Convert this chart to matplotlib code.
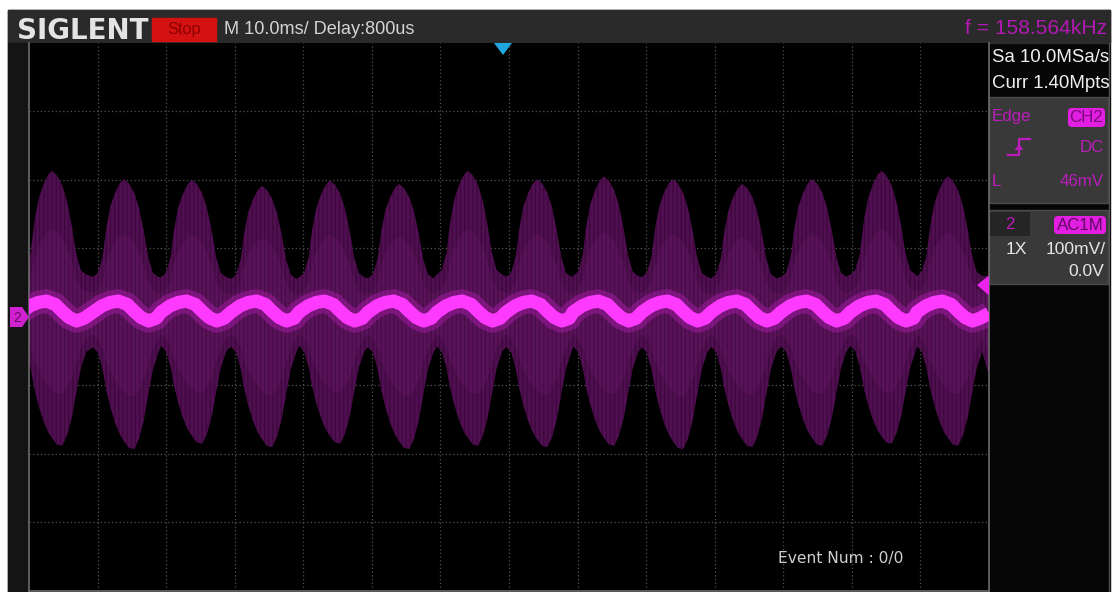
import numpy as np
import matplotlib
matplotlib.use("Agg")
import matplotlib.pyplot as plt
from matplotlib.patches import Rectangle, Polygon, FancyBboxPatch
from matplotlib import font_manager

# scope readouts
brand = "SIGLENT"
run_state = "Stop"
timebase = "M 10.0ms/ Delay:800us"
freq_text = "f = 158.564kHz"
sample_rate = "Sa 10.0MSa/s"
mem_depth = "Curr 1.40Mpts"
trig_src = "CH2"
trig_coupling = "DC"
trig_level = "46mV"
ch_coupling = "AC1M"
ch_probe = "1X"
ch_scale = "100mV/"
ch_offset = "0.0V"
event_text = "Event Num : 0/0"

# burst positions (div) and envelope peaks (div)
burst_x = [0.335, 1.385, 2.377, 3.398, 4.39, 5.396, 6.40, 7.41, 8.385, 9.39, 10.40, 11.42, 12.43, 13.40]
burst_top = [2.13, 2.01, 2.00, 1.91, 1.99, 1.94, 2.13, 2.01, 2.05, 2.01, 1.94, 2.01, 2.13, 2.05]
burst_bottom = [-1.88, -1.93, -1.85, -1.90, -1.85, -1.93, -1.88, -1.90, -1.88, -1.93, -1.90, -1.88, -1.85, -1.88]

# envelope shape around one burst (offset in div, fraction of peak)
profile_dx = [-0.45, -0.38, -0.31, -0.26, -0.20, -0.13, -0.06, 0.0, 0.07, 0.15, 0.22, 0.29, 0.35, 0.42, 0.50]
upper_frac = [0.29, 0.32, 0.44, 0.64, 0.80, 0.90, 0.97, 1.00, 0.97, 0.90, 0.79, 0.62, 0.44, 0.32, 0.29]
lower_frac = [0.23, 0.27, 0.40, 0.55, 0.68, 0.80, 0.89, 0.94, 0.99, 1.00, 0.92, 0.78, 0.60, 0.40, 0.27]

# averaged ripple trace over one burst period (offset in div, level in div)
trace_dx = [-0.45, -0.32, -0.20, -0.08, 0.05, 0.15, 0.25, 0.36, 0.47]
trace_y = [0.07, 0.16, 0.21, 0.23, 0.18, 0.08, -0.01, -0.06, -0.02]

# right edge of the record
tail_x = 14.0
tail_up = 0.60
tail_low = -0.85
tail_trace = 0.05

names = {f.name for f in font_manager.fontManager.ttflist}
if "Liberation Sans Narrow" in names:
    NARROW, k = "Liberation Sans Narrow", 1.0
else:
    NARROW, k = "Liberation Sans", 0.84

W, H = 1112, 592
fig = plt.figure(figsize=(W / 100, H / 100), dpi=100)
fig.patch.set_facecolor("white")
plt.rcParams["hatch.linewidth"] = 0.9

bg = fig.add_axes([0, 0, 1, 1])
bg.set_xlim(0, W)
bg.set_ylim(H, 0)
bg.axis("off")
bg.add_patch(Rectangle((8, 10), 1102, 582, color="#060606"))
bg.add_patch(Rectangle((8, 10), 1102, 32.7, color="#2a2a2a"))
bg.add_patch(Rectangle((8, 42.7), 21, 549.3, color="#141414"))
# trigger panel
bg.add_patch(Rectangle((989, 97), 119, 106, fc="#393939", ec="#4a4a4a", lw=1))
# channel panel
bg.add_patch(Rectangle((989, 210), 119, 74, fc="#393939", ec="#4a4a4a", lw=1))
bg.add_patch(Rectangle((990, 212), 40, 24, fc="#252525"))
bg.plot([1109, 1109], [42.7, 592], color="#505050", lw=1)

# graticule
gx0, gx1, gy0, gy1 = 29, 989, 42.7, 591
ax = fig.add_axes([gx0 / W, (H - gy1) / H, (gx1 - gx0) / W, (gy1 - gy0) / H])
ax.set_facecolor("black")
ax.set_xlim(0, 14)
ax.set_ylim(-4, 4)
ax.set_xticks([])
ax.set_yticks([])
for i in range(1, 14):
    ax.axvline(i, color="#525252", lw=0.9, ls=(0, (1, 2)), zorder=1)
for j in range(-3, 4):
    ax.axhline(j, color="#525252", lw=0.9, ls=(0, (1, 2)), zorder=1)
for s in ["left", "right", "bottom"]:
    ax.spines[s].set_color("#6c6c6c")
    ax.spines[s].set_linewidth(1.2)
ax.spines["top"].set_visible(False)

xs, ups, lows, tx, ty = [], [], [], [], []
for c, t, b in zip(burst_x, burst_top, burst_bottom):
    xs += [c + d for d in profile_dx]
    ups += [t * f for f in upper_frac]
    lows += [b * f for f in lower_frac]
    tx += [c + d for d in trace_dx]
    ty += trace_y
xs.append(tail_x)
ups.append(tail_up)
lows.append(tail_low)
tx.append(tail_x)
ty.append(tail_trace)
xs, ups, lows = np.array(xs), np.array(ups), np.array(lows)

# persistence cloud of the switching noise, striped like the sampled record
ax.fill_between(xs, lows, ups, fc="#500f50", ec="#3c083c", hatch="||||", lw=0, zorder=2)
ax.fill_between(xs, lows * 0.6, ups * 0.6, fc="#5a135a", ec="#460c46", hatch="||||", lw=0, zorder=2)
ax.plot(tx, ty, color="#b01cb0", lw=17, alpha=0.45, solid_capstyle="butt", zorder=3)
ax.plot(tx, ty, color="#ff3aff", lw=9.5, solid_capstyle="butt", zorder=4)

# overlay with markers and readouts
top = fig.add_axes([0, 0, 1, 1])
top.set_xlim(0, W)
top.set_ylim(H, 0)
top.axis("off")
top.patch.set_alpha(0)

top.text(17, 31, brand, color="#e4e4e4", fontsize=20, fontweight="bold",
         family="DejaVu Sans", va="center", ha="left")
top.add_patch(Rectangle((152, 18), 64, 22.5, color="#d41212"))
top.text(184, 29.5, run_state, color="#8c0000", fontsize=14 * k, family=NARROW, ha="center", va="center")
top.text(224, 30, timebase, color="#d4d4d4", fontsize=15.5 * k, family=NARROW, ha="left", va="center")
top.text(1107, 28, freq_text, color="#b418b4", fontsize=18 * k, family=NARROW, ha="right", va="center")

top.text(992, 57, sample_rate, color="#f0f0f0", fontsize=16 * k, family=NARROW, ha="left", va="center")
top.text(992, 84, mem_depth, color="#f0f0f0", fontsize=16 * k, family=NARROW, ha="left", va="center")

mag = "#bc1cbc"
top.text(992, 117, "Edge", color=mag, fontsize=14.5 * k, family=NARROW, ha="left", va="center")
top.add_patch(FancyBboxPatch((1069, 109), 35, 17, boxstyle="round,pad=1,rounding_size=4",
                             fc="#e21ee2", ec="none"))
top.text(1086.5, 117.5, trig_src, color="#7a0a7a", fontsize=14.5 * k, family=NARROW, ha="center", va="center")
top.plot([1008, 1019, 1019, 1030], [155, 155, 139, 139], color=mag, lw=1.6)
top.add_patch(Polygon([(1014.5, 150), (1023.5, 150), (1019, 144)], fc=mag))
top.text(1104, 148, trig_coupling, color=mag, fontsize=14.5 * k, family=NARROW, ha="right", va="center")
top.text(992, 181, "L", color=mag, fontsize=14.5 * k, family=NARROW, ha="left", va="center")
top.text(1104, 181, trig_level, color=mag, fontsize=14.5 * k, family=NARROW, ha="right", va="center")

top.text(1010, 224.5, "2", color=mag, fontsize=14.5 * k, family=NARROW, ha="center", va="center")
top.add_patch(FancyBboxPatch((1055, 217), 50, 16, boxstyle="round,pad=1,rounding_size=4",
                             fc="#e21ee2", ec="none"))
top.text(1080, 225, ch_coupling, color="#5e085e", fontsize=14.5 * k, family=NARROW, ha="center", va="center")
top.text(1016, 250, ch_probe, color="#e6e6e6", fontsize=15 * k, family=NARROW, ha="center", va="center")
top.text(1106, 250, ch_scale, color="#e6e6e6", fontsize=15 * k, family=NARROW, ha="right", va="center")
top.text(1104, 272, ch_offset, color="#e6e6e6", fontsize=15 * k, family=NARROW, ha="right", va="center")

# trigger position, trigger level and channel ground markers
top.add_patch(Polygon([(494, 43), (512, 43), (503, 55)], fc="#20a6de"))
top.add_patch(Polygon([(977, 285), (989, 275.5), (989, 295.5)], fc="#ea24ea"))
top.add_patch(Polygon([(10, 307), (22, 307), (29, 317), (22, 327), (10, 327)], fc="#d022d0"))
top.text(17, 317.5, "2", color="#6a0a6a", fontsize=10, family=NARROW, ha="center", va="center")

top.text(778, 558, event_text, color="#cfcfcf", fontsize=11.2, family="DejaVu Sans", ha="left", va="center")

fig.savefig("out.png", dpi=100, facecolor=fig.get_facecolor())
